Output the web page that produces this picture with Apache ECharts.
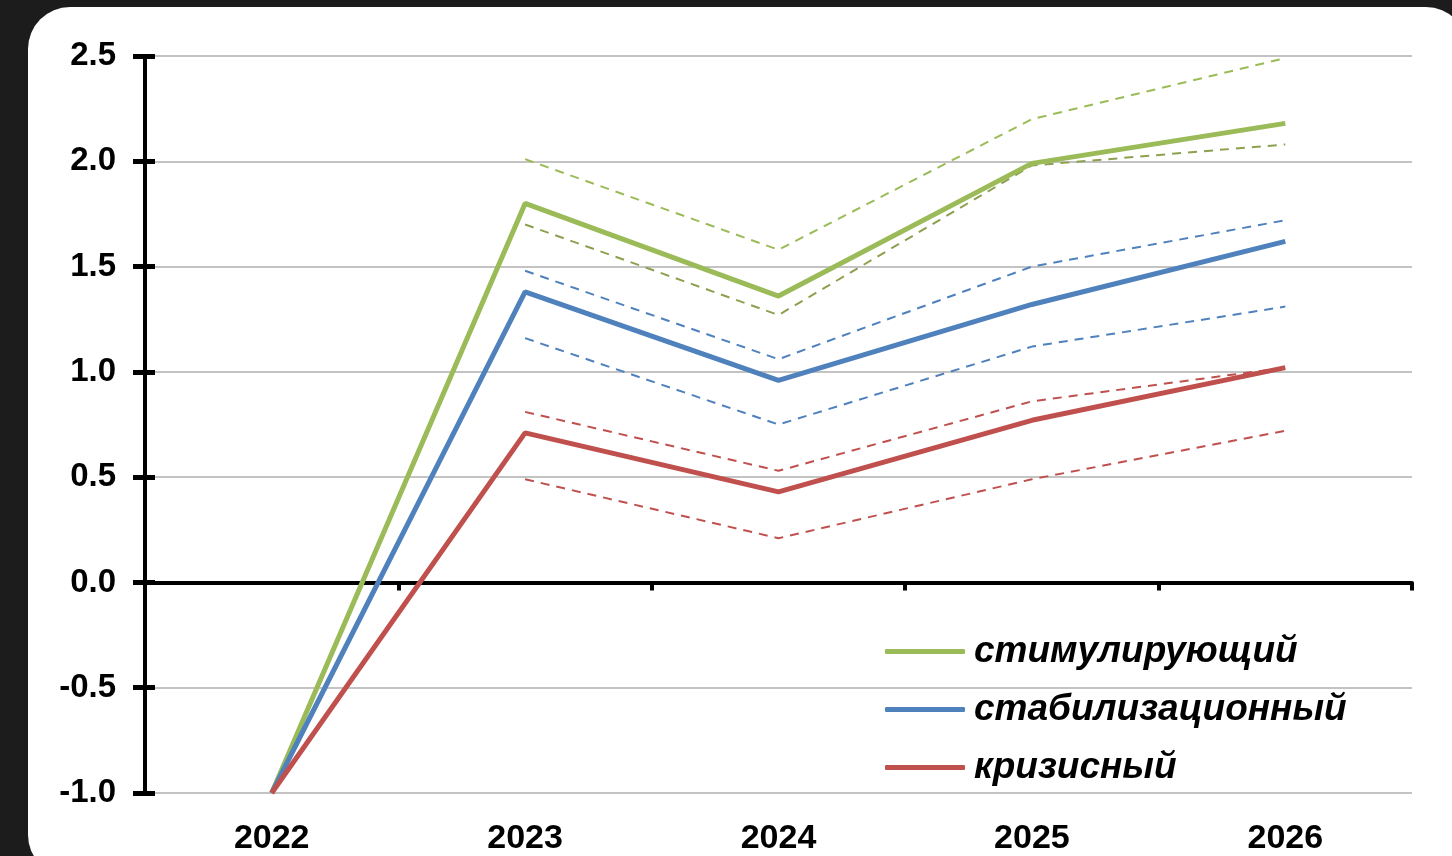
<!DOCTYPE html>
<html>
<head>
<meta charset="utf-8">
<script src="https://cdn.jsdelivr.net/npm/echarts@6/dist/echarts.min.js"></script>
<style>
  html, body { margin: 0; padding: 0; background: #1c1c1c; }
  #card { position: absolute; left: 28px; top: 7px; width: 1440px; height: 870px; background: #fff; border-radius: 42px; }
  #chart { position: absolute; left: 0; top: 0; width: 1452px; height: 856px; }
</style>
</head>
<body>
<div id="card"></div>
<div id="chart"></div>
<script>
  // годы
  var years = ['2022', '2023', '2024', '2025', '2026'];
  // сценарии (сплошные линии)
  var stimul = [-1.0, 1.80, 1.36, 1.99, 2.18];
  var stabil = [-1.0, 1.38, 0.96, 1.32, 1.62];
  var crisis = [-1.0, 0.71, 0.43, 0.77, 1.02];
  // границы (пунктир)
  var stimulHi = [null, 2.01, 1.58, 2.20, 2.49];
  var stimulLo = [null, 1.70, 1.27, 1.98, 2.08];
  var stabilHi = [null, 1.48, 1.06, 1.50, 1.72];
  var stabilLo = [null, 1.16, 0.75, 1.12, 1.31];
  var crisisHi = [null, 0.81, 0.53, 0.86, 1.02];
  var crisisLo = [null, 0.49, 0.21, 0.49, 0.72];

  var GREEN = '#9bbb59', BLUE = '#4f81bd', RED = '#c0504d';
  var font = '"Liberation Sans", Arial, sans-serif';

  function solid(name, data, color) {
    return {
      name: name, type: 'line', data: data, xAxisIndex: 0, yAxisIndex: 0,
      symbol: 'none', color: color,
      lineStyle: { color: color, width: 5 }, z: 5
    };
  }
  function dashed(name, data, color) {
    return {
      name: name, type: 'line', data: data, xAxisIndex: 0, yAxisIndex: 0,
      symbol: 'none', color: color,
      lineStyle: { color: color, width: 2, type: [9, 7] }, z: 4
    };
  }

  var chart = echarts.init(document.getElementById('chart'));
  var option = {
    animation: false,
    backgroundColor: 'transparent',
    grid: { left: 145, right: 40, top: 56, bottom: 63, containLabel: false },
    legend: {
      data: ['стимулирующий', 'стабилизационный', 'кризисный'],
      orient: 'vertical',
      left: 880, top: 628,
      icon: 'roundRect',
      itemWidth: 80, itemHeight: 5, itemGap: 21,
      textStyle: { fontFamily: font, fontSize: 37, fontWeight: 'bold', fontStyle: 'italic', color: '#000', padding: [0, 0, 0, 4] }
    },
    xAxis: [
      {
        type: 'category', data: years, position: 'bottom',
        axisLine: { show: false, onZero: false }, axisTick: { show: false },
        axisLabel: { fontFamily: font, fontSize: 34, fontWeight: 'bold', color: '#000', margin: 29 },
        splitLine: { show: false }
      },
      {
        type: 'category', data: years, position: 'bottom',
        axisLine: { show: true, onZero: true, lineStyle: { color: '#000', width: 4 } },
        axisTick: { show: true, length: 8, interval: 0, lineStyle: { color: '#000', width: 4 } },
        axisLabel: { show: false },
        splitLine: { show: false }
      }
    ],
    yAxis: [
      {
        // засечки внутрь графика (нижний слой)
        type: 'value', min: -1, max: 2.5, interval: 0.5, position: 'left',
        axisLine: { show: true, onZero: false, lineStyle: { color: '#000', width: 4 } },
        axisTick: { show: true, inside: true, length: 10, lineStyle: { color: '#000', width: 5 } },
        axisLabel: { show: false },
        splitLine: { show: true, lineStyle: { color: '#c3c3c3', width: 2 } }
      },
      {
        type: 'value', min: -1, max: 2.5, interval: 0.5, position: 'left', offset: 0,
        axisLine: { show: true, onZero: false, lineStyle: { color: '#000', width: 4 } },
        axisTick: { show: true, length: 12, lineStyle: { color: '#000', width: 5 } },
        axisLabel: {
          fontFamily: font, fontSize: 33, fontWeight: 'bold', color: '#000', margin: 29,
          formatter: function (v) { return v.toFixed(1); }
        },
        splitLine: { show: false }
      }
    ],
    series: [
      dashed('stimHi', stimulHi, '#9bbb59'),
      dashed('stimLo', stimulLo, '#8ca04f'),
      dashed('stabHi', stabilHi, BLUE),
      dashed('stabLo', stabilLo, BLUE),
      dashed('crHi', crisisHi, RED),
      dashed('crLo', crisisLo, RED),
      solid('стимулирующий', stimul, GREEN),
      solid('стабилизационный', stabil, BLUE),
      solid('кризисный', crisis, RED),
      { name: 'ticks', type: 'line', data: [], xAxisIndex: 1, yAxisIndex: 1, symbol: 'none' }
    ]
  };
  chart.setOption(option);
</script>
</body>
</html>
